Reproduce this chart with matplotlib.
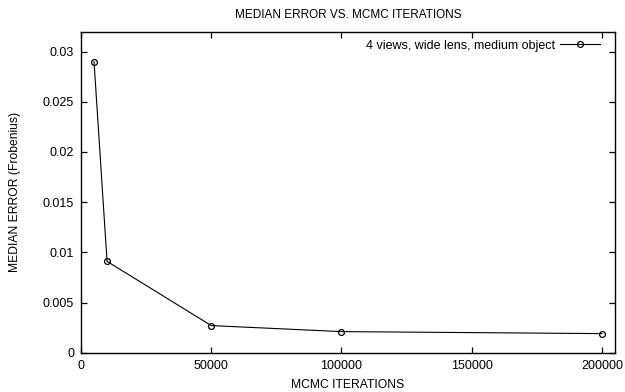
import matplotlib
matplotlib.use('Agg')

import matplotlib.pyplot as plt

plt.rcParams['font.family'] = ['Liberation Sans', 'DejaVu Sans']

# median error per number of MCMC iterations
iterations = [5000, 10000, 50000, 100000, 200000]
median_error = [0.029, 0.0091, 0.0027, 0.0021, 0.0019]
series_label = "4 views, wide lens, medium object"

x_ticks = [0, 50000, 100000, 150000, 200000]
y_ticks = [0, 0.005, 0.01, 0.015, 0.02, 0.025, 0.03]
y_tick_labels = ["0", "0.005", "0.01", "0.015", "0.02", "0.025", "0.03"]

fig = plt.figure(figsize=(6.25, 3.92), dpi=100)
ax = fig.add_axes([0.1296, 0.1003, 0.8544, 0.8193])

ax.plot(iterations, median_error, color='black', linewidth=0.8,
        marker='o', markersize=4.2, markerfacecolor='none',
        markeredgecolor='black', markeredgewidth=0.9, label=series_label)

ax.set_xlim(0, 205000)
ax.set_ylim(0, 0.032)
ax.set_xticks(x_ticks)
ax.set_xticklabels([str(t) for t in x_ticks])
ax.set_yticks(y_ticks)
ax.set_yticklabels(y_tick_labels)

ax.tick_params(direction='in', length=4, width=0.9, labelsize=9,
               top=True, right=True, pad=5, colors='black')
for side in ax.spines.values():
    side.set_linewidth(1.0)
    side.set_color('black')

ax.set_title("MEDIAN ERROR VS. MCMC ITERATIONS", fontsize=8.5, pad=10)
ax.set_xlabel("MCMC ITERATIONS", fontsize=8.7, labelpad=5)
ax.set_ylabel("MEDIAN ERROR (Frobenius)", fontsize=8.7)
ax.yaxis.set_label_coords(-0.112, 0.5)

leg = ax.legend(loc='upper right', bbox_to_anchor=(0.981, 0.99),
                frameon=False, fontsize=9, markerfirst=False,
                handlelength=3.2, handletextpad=0.4, borderaxespad=0)

fig.savefig('out.png', dpi=100)
plt.close(fig)
